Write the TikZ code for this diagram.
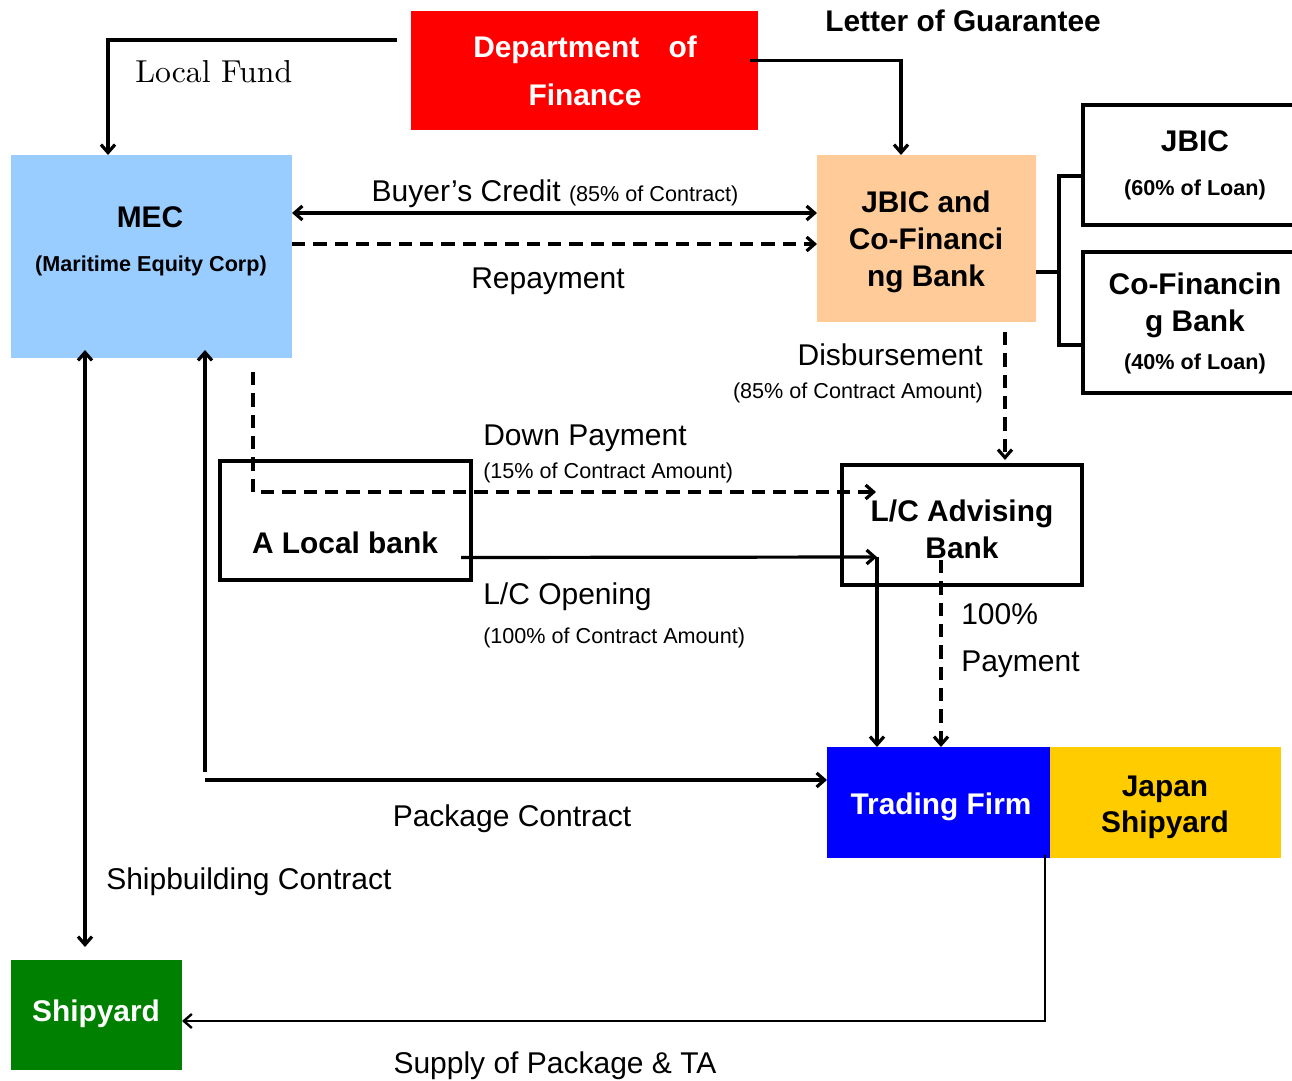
\documentclass[tikz,border=0pt]{standalone}
\usepackage{fontspec}
\newfontfamily\arial{Liberation Sans}
\newfontfamily\lmten{lmroman10-regular.otf}
\usetikzlibrary{fit,calc,arrows.meta}
\definecolor{mecblue}{HTML}{99CCFF}
\definecolor{peach}{HTML}{FFCC99}
\definecolor{gold}{HTML}{FFCC00}
\definecolor{dgreen}{HTML}{008000}
\begin{document}
\begin{tikzpicture}[x=0.75pt,y=-0.75pt,
  area/.style={inner sep=0pt, outer sep=0pt},
  frame/.style={area, draw, line width=2.4pt},
  hd/.style={font=\arial\bfseries\fontsize{22.4}{26}\selectfont, inner sep=0pt, anchor=base},
  hdw/.style={hd, text=white},
  smb/.style={font=\arial\bfseries\fontsize{16.2}{19}\selectfont, inner sep=0pt, anchor=base},
  lbl/.style={font=\arial\fontsize{22.5}{26}\selectfont, inner sep=0pt, anchor=base},
  sml/.style={font=\arial\fontsize{16.2}{19}\selectfont, inner sep=0pt, anchor=base},
  conn/.style={line width=2.4pt},
  tip/.style={-{Straight Barb[length=6pt,width=10.5pt]}},
  arr/.style={conn, tip},
  arrb/.style={conn, {Straight Barb[length=6pt,width=10.5pt]}-{Straight Barb[length=6pt,width=10.5pt]}},
  dsh/.style={dash pattern=on 10pt off 6pt}
]
\useasboundingbox (0,0) rectangle (1292,1081);
\clip (0,0) rectangle (1292,1081);

% ---- boxes ----
\node[area, fill=red, fit={(411,11) (758,130)}] (dof) {};
\node[area, fill=mecblue, fit={(11,155) (292,358)}] (mec) {};
\node[area, fill=peach, fit={(817,155) (1036,322)}] (jbicco) {};
\node[frame, fit={(1083,105) (1310,225)}] (jbic) {};
\node[frame, fit={(1083,252) (1310,393)}] (cofin) {};
\node[frame, fit={(220,461) (471,580)}] (local) {};
\node[frame, fit={(842,465) (1082,585)}] (lcab) {};
\node[area, fill=blue, fit={(827,747) (1050,858)}] (trading) {};
\node[area, fill=gold, fit={(1050,747) (1281,858)}] (japan) {};
\node[area, fill=dgreen, fit={(11,960) (182,1070)}] (shipyard) {};

% ---- box texts ----
\node[hdw] (tdof1) at (585,58) {Department\hspace{22pt}of};
\node[hdw] (tdof2) at (585,105) {Finance};
\node[hd] (tmec) at (150,227) {MEC};
\node[smb] (tmec2) at (151,271) {(Maritime Equity Corp)};
\node[hd] (tjc1) at (926,212) {JBIC and};
\node[hd] (tjc2) at (926,249) {Co-Financi};
\node[hd] (tjc3) at (926,286) {ng Bank};
\node[hd] (tjbic) at (1195,151) {JBIC};
\node[smb] (tjbic2) at (1195,195) {(60\% of Loan)};
\node[hd] (tcof1) at (1195,294) {Co-Financin};
\node[hd] (tcof2) at (1195,331) {g Bank};
\node[smb] (tcof3) at (1195,369) {(40\% of Loan)};
\node[hd] (tlocal) at (345,553) {A Local bank};
\node[hd] (tlc1) at (962,521) {L/C Advising};
\node[hd] (tlc2) at (962,558) {Bank};
\node[hdw] (ttrade) at (941,814) {Trading Firm};
\node[hd] (tjap1) at (1165,796) {Japan};
\node[hd] (tjap2) at (1165,832) {Shipyard};
\node[hdw] (tship) at (96,1021) {Shipyard};

% ---- labels ----
\node[hd] (llog) at (963,32) {Letter of Guarantee};
\node[inner sep=0pt, anchor=base west, font=\lmten\fontsize{23.8}{28}\selectfont] (lfund) at (135,83) {Local Fund};
\node[lbl] (lbuy) at (555,201) {Buyer’s Credit {\fontsize{16.2}{19}\selectfont(85\% of Contract)}};
\node[lbl] (lrep) at (548,288) {Repayment};
\node[lbl, anchor=base east] (ldis) at (983,365) {Disbursement};
\node[sml, anchor=base east] (ldis2) at (983,398) {(85\% of Contract Amount)};
\node[lbl, anchor=base west] (ldown) at (483,445) {Down Payment};
\node[sml, anchor=base west] (ldown2) at (483,478) {(15\% of Contract Amount)};
\node[lbl, anchor=base west] (lopen) at (483,604) {L/C Opening};
\node[sml, anchor=base west] (lopen2) at (483,643) {(100\% of Contract Amount)};
\node[lbl, anchor=base west] (lpay1) at (961,624) {100\%};
\node[lbl, anchor=base west] (lpay2) at (961,671) {Payment};
\node[lbl] (lpack) at (512,826) {Package Contract};
\node[lbl, anchor=base west] (lsbc) at (106,889) {Shipbuilding Contract};
\node[lbl] (lsup) at (555,1073) {Supply of Package \& TA};

% ---- connectors ----
\draw[arr] ($(dof.north west)+(-14,29)$) -| ($(mec.north west)+(97,0)$);
\draw[arr] ($(dof.east)+(-8,-10)$) -| ($(jbicco.north west)+(84,0)$);
\draw[arrb] ($(mec.north east)+(0,58)$) -- ($(jbicco.north west)+(0,58)$);
\draw[arr, dsh] ($(mec.north east)+(0,89)$) -- ($(jbicco.north west)+(0,89)$);
\draw[conn] ($(jbicco.north east)+(0,117)$) -- ++(23,0);
\draw[conn] ($(jbic.north west)+(0,71)$) -| ($(cofin.north west)+(-24,93)$) -- ($(cofin.north west)+(0,93)$);
\draw[arr, dsh] ($(jbicco.south east)+(-31,10)$) -- ($(lcab.north west)+(163,-5)$);
\draw[arr, dsh] ($(mec.south west)+(242,14)$) |- ($(lcab.north west)+(34,27)$);
\coordinate (lcturn) at ($(lcab.south west)+(35,-28)$);
\draw[arr] ($(local.east)+(-10,37)$) -- (lcturn);
\draw[arr] (lcturn) -- (lcturn |- trading.north);
\draw[arr, dsh] ($(lcab.south west)+(99,-25)$) -- ($(trading.north west)+(114,0)$);
\coordinate (pkstart) at ($(mec.south west)+(194,422)$);
\draw[arr] (pkstart) -- (pkstart -| trading.west);
\draw[arr] ($(pkstart)+(0,-8)$) -- ($(mec.south west)+(194,-8)$);
\draw[arrb] ($(mec.south west)+(74,-8)$) -- ($(shipyard.north west)+(74,-13)$);
\draw[line width=1.8pt, tip] ($(trading.south east)+(-5,-3)$) |- ($(shipyard.north east)+(0,61)$);
\end{tikzpicture}
\end{document}
